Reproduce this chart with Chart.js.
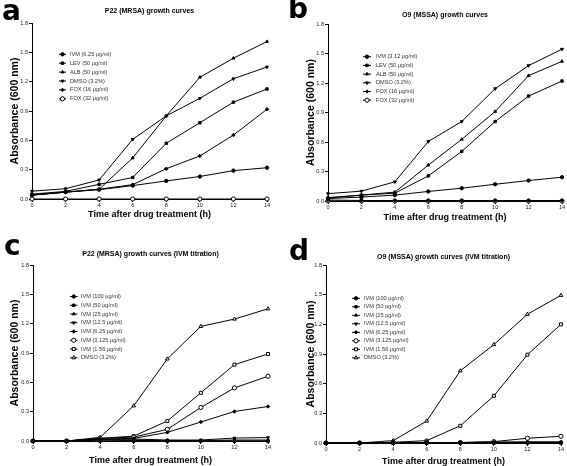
<!DOCTYPE html>
<html>
<head>
<meta charset="utf-8">
<script src="https://cdn.jsdelivr.net/npm/chart.js@4.4.1/dist/chart.umd.min.js"></script>
<style>
html,body{margin:0;padding:0;background:#fff;}
body{width:567px;height:466px;position:relative;overflow:hidden;}
canvas{position:absolute;display:block;}
</style>
</head>
<body>
<canvas id="ca" width="283" height="233" style="left:0;top:0"></canvas>
<canvas id="cb" width="284" height="233" style="left:283px;top:0"></canvas>
<canvas id="cc" width="283" height="233" style="left:0;top:233px"></canvas>
<canvas id="cd" width="284" height="233" style="left:283px;top:233px"></canvas>
<script>
// ---------- data ----------
const timeHours = [0, 2, 4, 6, 8, 10, 12, 14];
const yTickValues = [0, 0.3, 0.6, 0.9, 1.2, 1.5, 1.8];

// Panel a: P22 (MRSA)
const a_IVM_625 = [0.04, 0.07, 0.095, 0.137, 0.185, 0.23, 0.29, 0.32];
const a_LEV_50  = [0.05, 0.078, 0.15, 0.22, 0.57, 0.78, 0.99, 1.125];
const a_ALB_50  = [0.04, 0.07, 0.10, 0.42, 0.85, 1.245, 1.44, 1.61];
const a_DMSO    = [0.08, 0.105, 0.195, 0.61, 0.85, 1.03, 1.23, 1.35];
const a_FOX_16  = [0.04, 0.07, 0.10, 0.147, 0.31, 0.44, 0.654, 0.918];
const a_FOX_32  = [0, 0, 0, 0, 0, 0, 0, 0];

// Panel b: O9 (MSSA)
const b_IVM_312 = [0.025, 0.04, 0.06, 0.097, 0.13, 0.17, 0.208, 0.242];
const b_LEV_50  = [0.03, 0.06, 0.08, 0.255, 0.504, 0.808, 1.067, 1.22];
const b_ALB_50  = [0.035, 0.06, 0.09, 0.365, 0.627, 0.91, 1.275, 1.42];
const b_DMSO    = [0.075, 0.10, 0.195, 0.605, 0.808, 1.142, 1.377, 1.544];
const b_FOX_16  = [0.01, 0.005, 0.005, 0.005, 0.005, 0.005, 0.005, 0.005];
const b_FOX_32  = [0, 0, 0, 0, 0, 0, 0, 0];

// Panel c: P22 (MRSA) IVM titration
const c_IVM_100  = [0, 0, 0, 0, 0, 0, 0, 0];
const c_IVM_50   = [0, 0, 0.01, 0.005, 0, 0, 0, 0];
const c_IVM_25   = [0, 0, 0.015, 0.01, 0.005, 0.005, 0.01, 0.01];
const c_IVM_125  = [0, 0, 0.015, 0.02, 0.01, 0.01, 0.03, 0.035];
const c_IVM_625  = [0, 0, 0.02, 0.027, 0.088, 0.194, 0.302, 0.353];
const c_IVM_3125 = [0, 0, 0.027, 0.04, 0.119, 0.343, 0.543, 0.662];
const c_IVM_156  = [0, 0, 0.027, 0.05, 0.204, 0.493, 0.781, 0.89];
const c_DMSO     = [0, 0, 0.037, 0.36, 0.839, 1.172, 1.247, 1.352];

// Panel d: O9 (MSSA) IVM titration
const d_IVM_100  = [0, 0, 0, 0, 0, 0, 0, 0];
const d_IVM_50   = [0, 0, 0, 0, 0, 0, 0, 0];
const d_IVM_25   = [0, 0, 0, 0, 0, 0.005, 0.005, 0.005];
const d_IVM_125  = [0, 0, 0, 0, 0, 0.005, 0.01, 0.01];
const d_IVM_625  = [0, 0, 0, 0.005, 0.005, 0.01, 0.01, 0.01];
const d_IVM_3125 = [0, 0, 0.005, 0.005, 0.005, 0.014, 0.048, 0.068];
const d_IVM_156  = [0, 0, 0.007, 0.024, 0.174, 0.477, 0.893, 1.2];
const d_DMSO     = [0, 0, 0.024, 0.222, 0.73, 0.995, 1.302, 1.493];

const labelsA = ['IVM (6.25 \u03BCg/ml)', 'LEV (50 \u03BCg/ml)', 'ALB (50 \u03BCg/ml)', 'DMSO (3.2%)', 'FOX (16 \u03BCg/ml)', 'FOX (32 \u03BCg/ml)'];
const labelsB = ['IVM (3.12 \u03BCg/ml)', 'LEV (50 \u03BCg/ml)', 'ALB (50 \u03BCg/ml)', 'DMSO (3.2%)', 'FOX (16 \u03BCg/ml)', 'FOX (32 \u03BCg/ml)'];
const labelsTitration = ['IVM (100 \u03BCg/ml)', 'IVM (50 \u03BCg/ml)', 'IVM (25 \u03BCg/ml)', 'IVM (12.5 \u03BCg/ml)', 'IVM (6.25 \u03BCg/ml)', 'IVM (3.125 \u03BCg/ml)', 'IVM (1.56 \u03BCg/ml)', 'DMSO (3.2%)'];

// ---------- styling ----------
const FONT = '"Liberation Sans", Arial, Helvetica, sans-serif';
const markersDrug = [
  {style: 'circle'}, {style: 'rect'}, {style: 'triangle'}, {style: 'triangle', rot: 180},
  {style: 'rectRot'}, {style: 'circle', open: true}
];
const markersTitration = [
  {style: 'circle'}, {style: 'rect'}, {style: 'triangle'}, {style: 'triangle', rot: 180},
  {style: 'rectRot'}, {style: 'circle', open: true}, {style: 'rect', open: true}, {style: 'triangle', open: true}
];
const R_FILLED = 1.7, R_OPEN = 2.1;

function drawMarker(ctx, m, x, y) {
  const r = m.open ? R_OPEN : R_FILLED;
  ctx.save();
  ctx.fillStyle = m.open ? '#fff' : '#000';
  ctx.strokeStyle = '#000';
  ctx.lineWidth = 1;
  if (Chart.helpers && Chart.helpers.drawPoint) {
    Chart.helpers.drawPoint(ctx, {pointStyle: m.style, rotation: m.rot || 0, radius: r, borderWidth: 1}, x, y);
  } else {
    ctx.beginPath(); ctx.arc(x, y, r, 0, Math.PI * 2); ctx.fill(); ctx.stroke();
  }
  ctx.restore();
}

const insideLegend = {
  id: 'insideLegend',
  afterDraw(chart, args, opts) {
    if (!opts || !opts.markers) return;
    const ctx = chart.ctx;
    ctx.save();
    chart.data.datasets.forEach((ds, i) => {
      const y = opts.y + i * opts.spacing;
      ctx.strokeStyle = '#000';
      ctx.lineWidth = 1;
      ctx.beginPath();
      ctx.moveTo(opts.x, y);
      ctx.lineTo(opts.x + opts.lineLen, y);
      ctx.stroke();
      drawMarker(ctx, opts.markers[i], opts.x + opts.lineLen / 2, y);
      ctx.fillStyle = '#333';
      ctx.font = '5.6px ' + FONT;
      ctx.textBaseline = 'middle';
      ctx.textAlign = 'left';
      ctx.fillText(ds.label, opts.textX, y);
    });
    ctx.restore();
  }
};

const panelLetter = {
  id: 'panelLetter',
  afterDraw(chart, args, opts) {
    if (!opts || !opts.text) return;
    const ctx = chart.ctx;
    ctx.save();
    ctx.fillStyle = '#000';
    ctx.font = 'bold 28px "DejaVu Sans", ' + FONT;
    ctx.textBaseline = 'alphabetic';
    ctx.textAlign = 'left';
    ctx.fillText(opts.text, opts.x, opts.y);
    ctx.restore();
  }
};

function makeChart(id, p) {
  const canvas = document.getElementById(id);
  const W = canvas.width, H = canvas.height;
  const tSize = 7, tLH = tSize * 1.2;
  const xtSize = 9, xtLH = xtSize * 1.2;
  const ytSize = 10.5, ytLH = ytSize * 1.2;
  const tickFont = {family: FONT, size: 5.6};
  const datasets = p.series.map((vals, i) => {
    const m = p.markers[i];
    return {
      label: p.labels[i],
      data: timeHours.map((t, k) => ({x: t, y: vals[k]})),
      borderColor: '#000',
      borderWidth: 1,
      pointStyle: m.style,
      rotation: m.rot || 0,
      pointRadius: m.open ? R_OPEN : R_FILLED,
      pointBackgroundColor: m.open ? '#fff' : '#000',
      pointBorderColor: '#000',
      pointBorderWidth: 1,
      tension: 0,
      clip: false
    };
  });
  return new Chart(canvas, {
    type: 'line',
    data: {datasets},
    options: {
      responsive: false,
      animation: false,
      events: [],
      layout: {padding: {left: 0, top: 0, right: W - p.R, bottom: 0}},
      plugins: {
        legend: {display: false},
        tooltip: {enabled: false},
        title: {
          display: true, text: p.title, fullSize: false, color: '#000',
          font: {family: FONT, size: tSize, weight: 'bold'},
          padding: {top: p.titleY - tLH / 2, bottom: p.T - p.titleY - tLH / 2}
        },
        insideLegend: p.legend,
        panelLetter: p.letter
      },
      scales: {
        x: {
          type: 'linear', min: 0, max: 14,
          ticks: {stepSize: 2, font: tickFont, color: '#222', padding: 0, maxRotation: 0, autoSkip: false},
          grid: {display: true, drawOnChartArea: false, drawTicks: true, tickLength: 3, color: '#000', lineWidth: 1},
          border: {display: true, color: '#000', width: 1},
          title: {
            display: true, text: 'Time after drug treatment (h)', color: '#000',
            font: {family: FONT, size: xtSize, weight: 'bold'},
            padding: {top: 0, bottom: H - p.xTitleY - xtLH / 2}
          },
          afterFit(s) { s.height = H - p.B; s.paddingLeft = 0; s.paddingRight = 0; }
        },
        y: {
          type: 'linear', min: 0, max: 1.8,
          afterBuildTicks(s) { s.ticks = yTickValues.map(v => ({value: v})); },
          ticks: {font: tickFont, color: '#222', padding: 1, callback: v => Number(v).toFixed(1)},
          grid: {display: true, drawOnChartArea: false, drawTicks: true, tickLength: 3, color: '#000', lineWidth: 1},
          border: {display: true, color: '#000', width: 1},
          title: {
            display: true, text: 'Absorbance (600 nm)', color: '#000',
            font: {family: FONT, size: ytSize, weight: 'bold'},
            padding: {top: p.yTitleX - ytLH / 2, bottom: 0}
          },
          afterFit(s) { s.width = p.L; s.paddingTop = 0; s.paddingBottom = 0; }
        }
      }
    },
    plugins: [insideLegend, panelLetter]
  });
}

makeChart('ca', {
  title: 'P22 (MRSA) growth curves',
  L: 32, R: 267, T: 23, B: 199, titleY: 11, yTitleX: 15, xTitleY: 215,
  series: [a_IVM_625, a_LEV_50, a_ALB_50, a_DMSO, a_FOX_16, a_FOX_32],
  labels: labelsA, markers: markersDrug,
  legend: {markers: markersDrug, x: 59, lineLen: 7, textX: 70, y: 54.3, spacing: 8.9},
  letter: {text: 'a', x: 2, y: 20}
});
makeChart('cb', {
  title: 'O9 (MSSA) growth curves',
  L: 45, R: 279, T: 24, B: 201, titleY: 15, yTitleX: 28, xTitleY: 218,
  series: [b_IVM_312, b_LEV_50, b_ALB_50, b_DMSO, b_FOX_16, b_FOX_32],
  labels: labelsB, markers: markersDrug,
  legend: {markers: markersDrug, x: 80, lineLen: 8, textX: 93, y: 56.7, spacing: 8.7},
  letter: {text: 'b', x: 5, y: 18}
});
makeChart('cc', {
  title: 'P22 (MRSA) growth curves (IVM titration)',
  L: 33, R: 268, T: 32, B: 208, titleY: 21, yTitleX: 15, xTitleY: 228,
  series: [c_IVM_100, c_IVM_50, c_IVM_25, c_IVM_125, c_IVM_625, c_IVM_3125, c_IVM_156, c_DMSO],
  labels: labelsTitration, markers: markersTitration,
  legend: {markers: markersTitration, x: 70, lineLen: 7.5, textX: 81, y: 63.5, spacing: 8.75},
  letter: {text: 'c', x: 4, y: 22}
});
makeChart('cd', {
  title: 'O9 (MSSA) growth curves (IVM titration)',
  L: 43, R: 278, T: 32, B: 210, titleY: 24, yTitleX: 28, xTitleY: 229,
  series: [d_IVM_100, d_IVM_50, d_IVM_25, d_IVM_125, d_IVM_625, d_IVM_3125, d_IVM_156, d_DMSO],
  labels: labelsTitration, markers: markersTitration,
  legend: {markers: markersTitration, x: 69, lineLen: 8, textX: 81, y: 65.3, spacing: 8.5},
  letter: {text: 'd', x: 6, y: 27}
});
</script>
</body>
</html>
